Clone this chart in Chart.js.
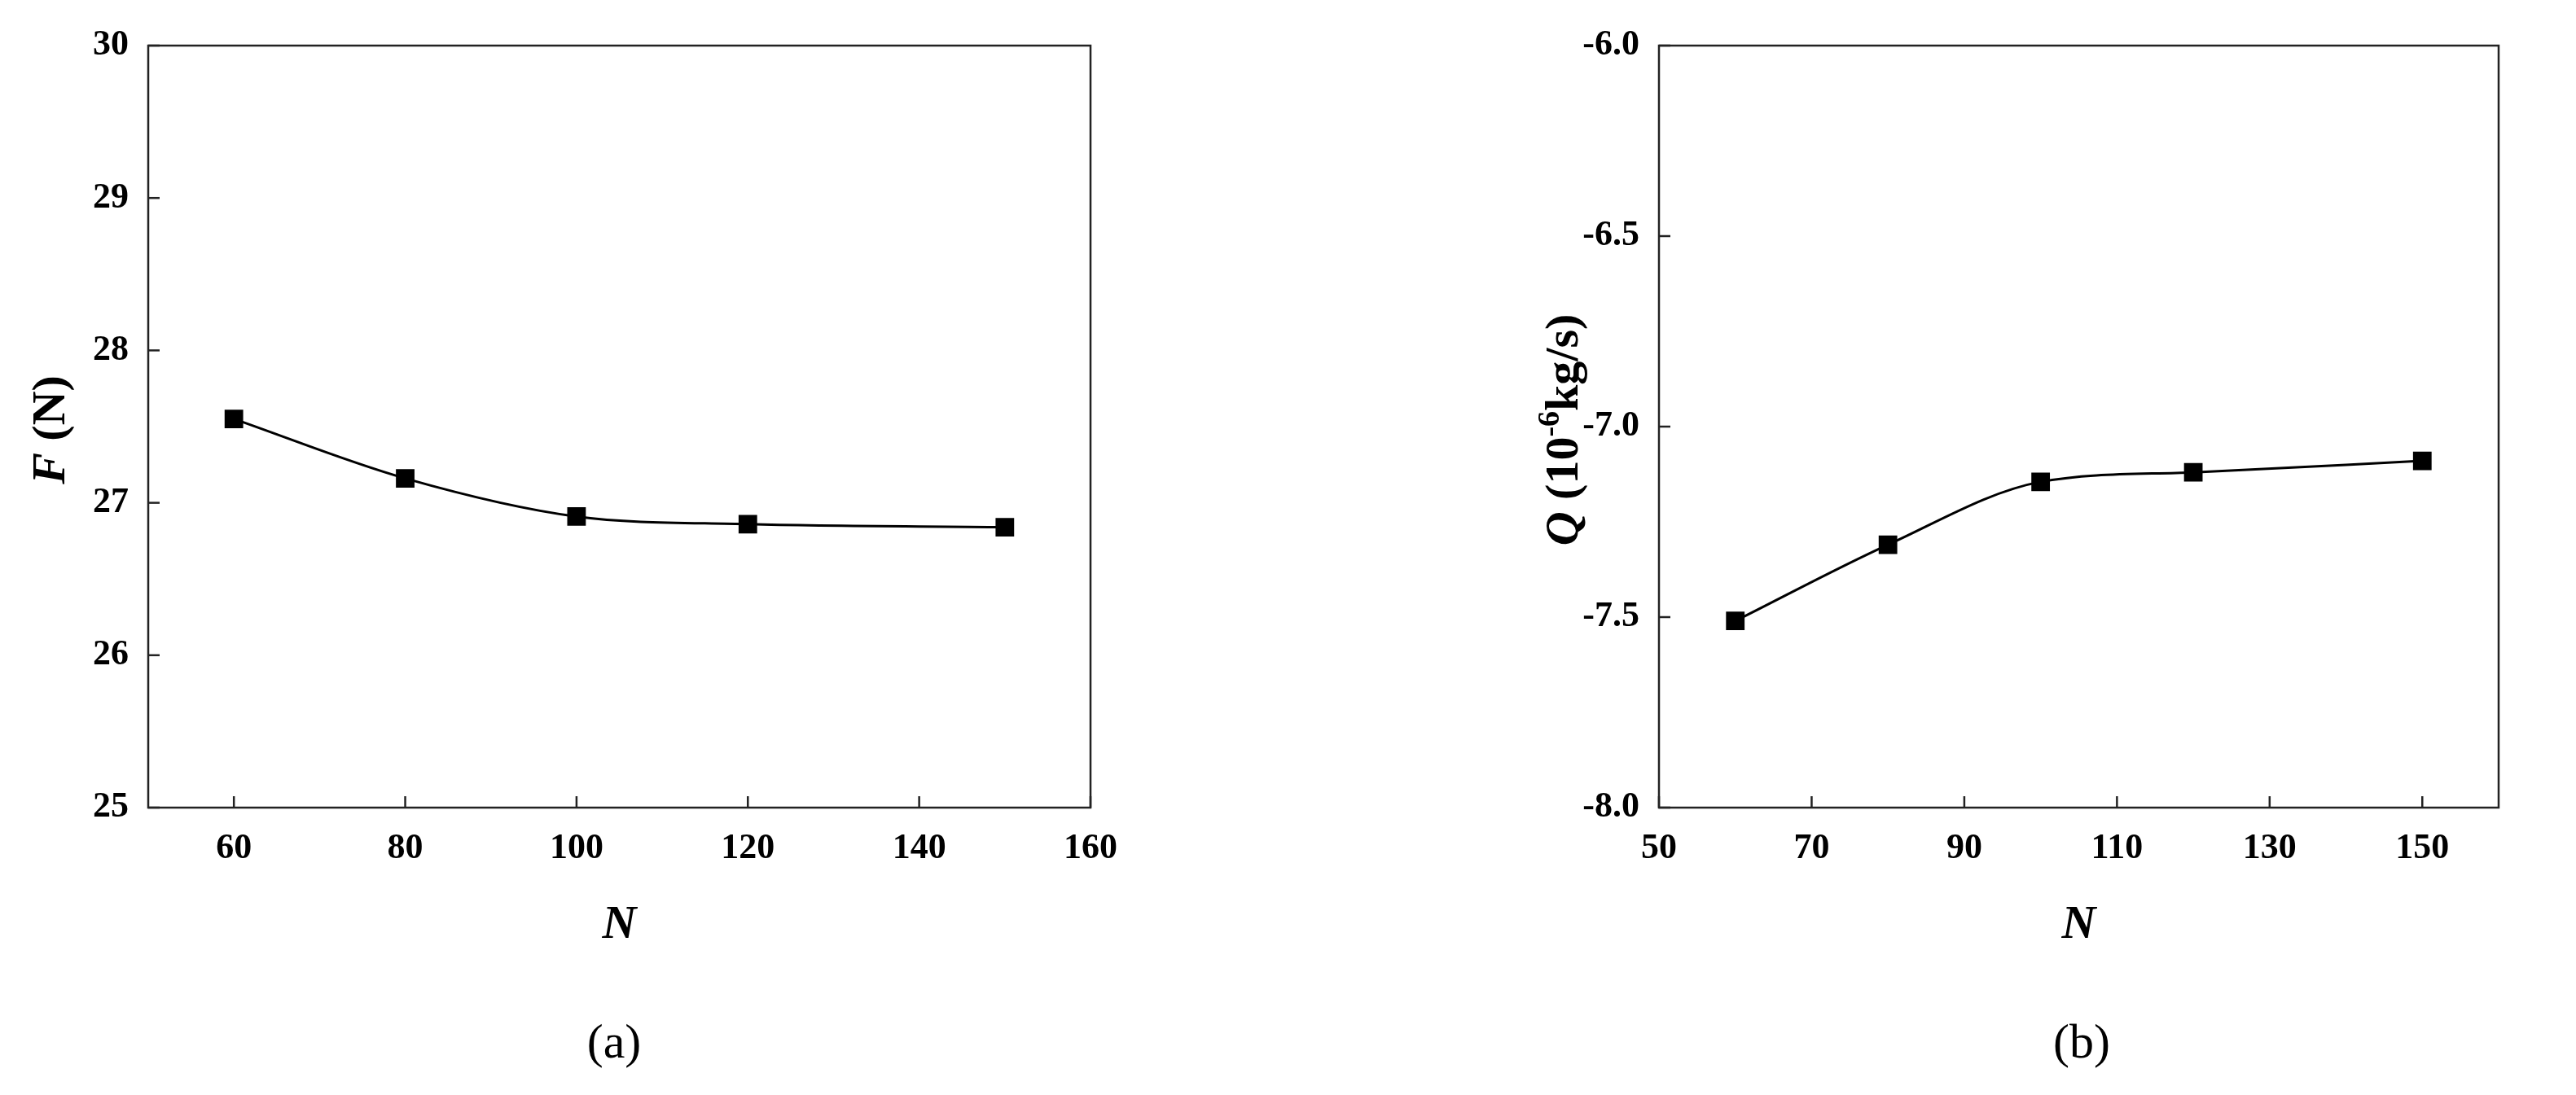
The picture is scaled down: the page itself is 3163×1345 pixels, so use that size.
<!DOCTYPE html>
<html>
<head>
<meta charset="utf-8">
<script src="https://cdn.jsdelivr.net/npm/chart.js@4"></script>
<style>
body { margin: 0; background: #fff; width: 3163px; height: 1345px; position: relative; overflow: hidden; }
.box { position: absolute; top: 0; height: 1200px; }
.cap { position: absolute; top: 1245px; font: 60px "Liberation Serif"; transform: translateX(-50%); }
</style>
</head>
<body>
<div class="box" style="left:0;width:1400px"><canvas id="chartA"></canvas></div>
<div class="box" style="left:1560px;width:1603px"><canvas id="chartB"></canvas></div>
<div class="cap" style="left:754px">(a)</div>
<div class="cap" style="left:2556px">(b)</div>
<script>
var nValues = [60, 80, 100, 120, 150];
var forceF = [27.55, 27.16, 26.91, 26.86, 26.84];
var flowQ = [-7.51, -7.31, -7.145, -7.12, -7.09];
var ticksXA = [60, 80, 100, 120, 140, 160];
var ticksXB = [50, 70, 90, 110, 130, 150];
var ticksYA = [25, 26, 27, 28, 29, 30];
var ticksYB = [-8.0, -7.5, -7.0, -6.5, -6.0];

var tickFont = { family: 'Liberation Serif', size: 44, weight: 'bold' };

// frame, inward ticks, rotated y title with mixed styles
var framePlugin = {
  id: 'frame',
  afterDraw: function(chart, args, opts) {
    var c = chart.ctx, a = chart.chartArea;
    c.save();
    c.strokeStyle = '#222';
    c.lineWidth = 2.5;
    c.strokeRect(a.left, a.top, a.right - a.left, a.bottom - a.top);
    chart.scales.x.ticks.forEach(function(t) {
      var x = chart.scales.x.getPixelForValue(t.value);
      c.beginPath(); c.moveTo(x, a.bottom); c.lineTo(x, a.bottom - 14); c.stroke();
    });
    chart.scales.y.ticks.forEach(function(t) {
      var y = chart.scales.y.getPixelForValue(t.value);
      c.beginPath(); c.moveTo(a.left, y); c.lineTo(a.left + 14, y); c.stroke();
    });
    c.translate(opts.tx, opts.ty);
    c.rotate(-Math.PI / 2);
    c.fillStyle = '#000';
    c.textBaseline = 'middle';
    var parts = opts.parts, total = 0;
    parts.forEach(function(p) { c.font = p.font; total += c.measureText(p.text).width; });
    var x = -total / 2;
    parts.forEach(function(p) {
      c.font = p.font;
      c.fillText(p.text, x, p.dy || 0);
      x += c.measureText(p.text).width;
    });
    c.restore();
  }
};

function makeChart(id, data, xmin, xmax, xticks, yticks, yfmt, yWidth, padRight, titleParts, tx) {
  return new Chart(document.getElementById(id), {
    type: 'line',
    data: {
      datasets: [{
        data: nValues.map(function(n, i) { return { x: n, y: data[i] }; }),
        borderColor: '#000',
        backgroundColor: '#000',
        borderWidth: 3,
        cubicInterpolationMode: 'monotone',
        pointStyle: 'rect',
        pointRadius: 14,
        pointHoverRadius: 14
      }]
    },
    options: {
      responsive: true,
      maintainAspectRatio: false,
      animation: false,
      layout: { padding: { top: 56, right: padRight } },
      plugins: { legend: { display: false }, tooltip: { enabled: false }, frame: { parts: titleParts, tx: tx, ty: 528 } },
      scales: {
        x: {
          type: 'linear', min: xmin, max: xmax,
          afterBuildTicks: function(s) { s.ticks = xticks.map(function(v) { return { value: v }; }); },
          afterFit: function(s) { s.height = 208; },
          grid: { display: false },
          border: { display: false },
          ticks: { font: tickFont, color: '#000', padding: 16, maxRotation: 0 },
          title: { display: true, text: 'N', color: '#000', font: { family: 'Liberation Serif', size: 58, weight: 'bold', style: 'italic' }, padding: { top: 0, bottom: 28 } }
        },
        y: {
          min: yticks[0], max: yticks[yticks.length - 1],
          afterBuildTicks: function(s) { s.ticks = yticks.map(function(v) { return { value: v }; }); },
          afterFit: function(s) { s.width = yWidth; },
          grid: { display: false },
          border: { display: false },
          ticks: { font: tickFont, color: '#000', padding: 16, callback: yfmt }
        }
      }
    },
    plugins: [framePlugin]
  });
}

makeChart('chartA', forceF, 50, 160, ticksXA, ticksYA, function(v) { return v; }, 182, 61,
  [{ text: 'F', font: 'italic bold 58px "Liberation Serif"' }, { text: ' (N)', font: 'bold 58px "Liberation Serif"' }], 64);
makeChart('chartB', flowQ, 50, 160, ticksXB, ticksYB, function(v) { return v.toFixed(1); }, 477, 95,
  [{ text: 'Q', font: 'italic bold 58px "Liberation Serif"' }, { text: ' (10', font: 'bold 58px "Liberation Serif"' },
   { text: '-6', font: 'bold 38px "Liberation Serif"', dy: -18 }, { text: 'kg/s)', font: 'bold 58px "Liberation Serif"' }], 362);
</script>
</body>
</html>
